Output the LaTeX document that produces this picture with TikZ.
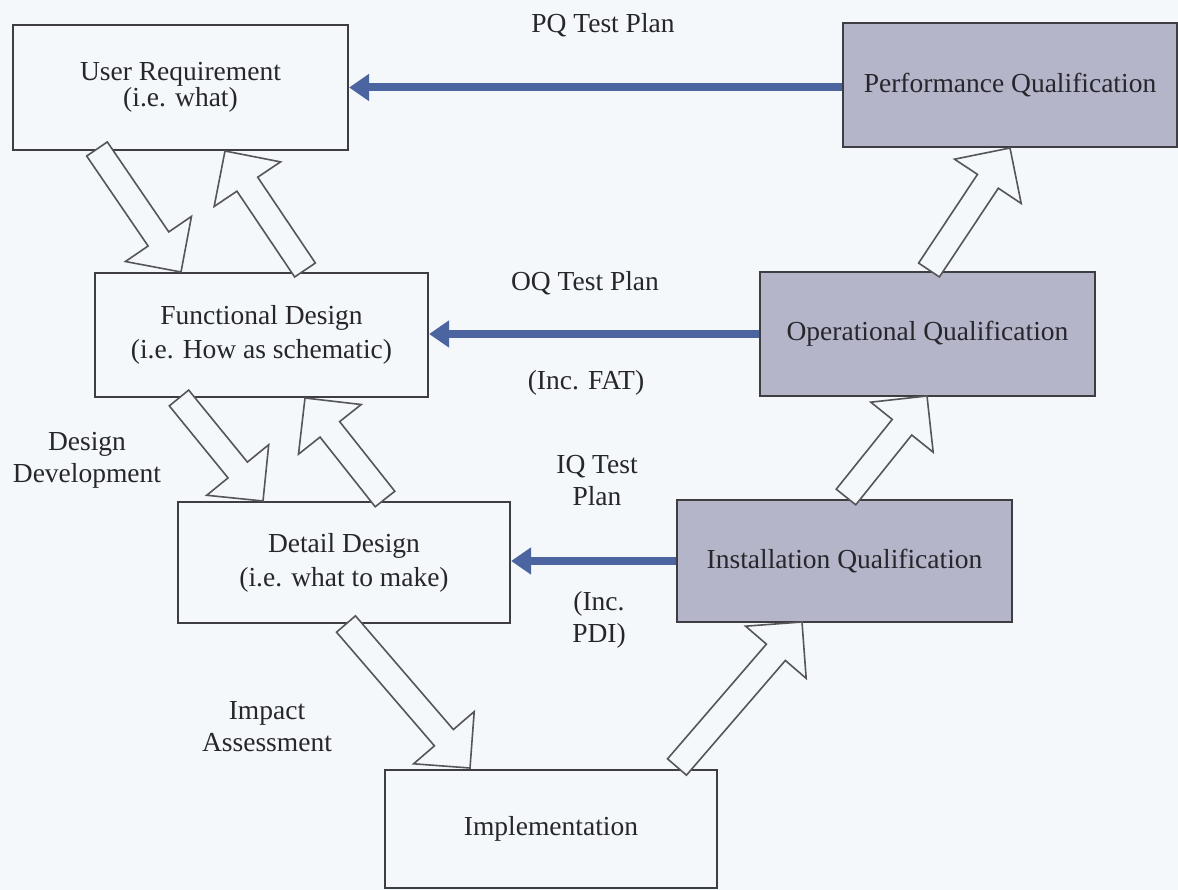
\documentclass[tikz,border=0pt]{standalone}
\usepackage{fontspec}
\setmainfont{Liberation Serif}
\usetikzlibrary{calc,arrows.meta}
\definecolor{bgc}{RGB}{244,248,250}
\definecolor{qfill}{RGB}{180,181,200}
\definecolor{linkblue}{RGB}{76,101,160}
\definecolor{edgegray}{RGB}{62,62,66}
\definecolor{arrowgray}{RGB}{85,85,90}
\definecolor{txt}{RGB}{38,38,44}

% hollow block arrow from tail centre #1 to tip #2
\newcommand\hollowarrow[2]{%
  \draw[blockarrow] let \p1=(#1), \p2=(#2),
      \n1={atan2(\y2-\y1,\x2-\x1)}, \n2={veclen(\x2-\x1,\y2-\y1)} in
    ($(\p1)+({\n1+90}:12.5)$)
    -- ($(\p1)+({\n1}:{\n2-40})+({\n1+90}:12.5)$)
    -- ($(\p1)+({\n1}:{\n2-40})+({\n1+90}:40)$)
    -- (\p2)
    -- ($(\p1)+({\n1}:{\n2-40})+({\n1-90}:40)$)
    -- ($(\p1)+({\n1}:{\n2-40})+({\n1-90}:12.5)$)
    -- ($(\p1)+({\n1-90}:12.5)$) -- cycle;}

\begin{document}
\begin{tikzpicture}[x=1pt,y=1pt,
  stage/.style={draw=edgegray, line width=2.2pt, fill=bgc, align=center,
    text=txt, inner sep=0pt, font=\fontsize{27.5}{34}\selectfont},
  qual/.style={stage, fill=qfill},
  tag/.style={text=txt, align=center, inner sep=0pt,
    font=\fontsize{27.5}{32}\selectfont},
  testlink/.style={draw=linkblue, line width=8pt,
    -{Triangle[length=20pt,width=26pt]}},
  blockarrow/.style={draw=arrowgray, fill=bgc, line width=1.6pt, line join=miter}]

\fill[bgc] (0,0) rectangle (1178,-890);
\useasboundingbox (0,0) rectangle (1178,-890);

% stages of the V model
\node[stage, minimum width=335pt, minimum height=125pt,
      font=\fontsize{27.5}{26}\selectfont] (ur) at (180.5,-87.5)
  {User Requirement\\(i.e. what)};
\node[qual, minimum width=334pt, minimum height=124pt] (pq) at (1010,-85)
  {Performance Qualification};
\node[stage, minimum width=333pt, minimum height=124pt] (fd) at (261.5,-335)
  {Functional Design\\(i.e. How as schematic)};
\node[qual, minimum width=335pt, minimum height=124pt] (oq) at (927.5,-334)
  {Operational Qualification};
\node[stage, minimum width=332pt, minimum height=121pt] (dd) at (344,-562.5)
  {Detail Design\\(i.e. what to make)};
\node[qual, minimum width=335pt, minimum height=122pt] (iq) at (844.5,-561)
  {Installation Qualification};
\node[stage, minimum width=332pt, minimum height=118pt] (impl) at (551,-829)
  {Implementation};

% test plans
\draw[testlink] (ur.east -| pq.west) -- (ur.east);
\draw[testlink] (oq.west) -- (oq.west -| fd.east);
\draw[testlink] (iq.west) -- (iq.west -| dd.east);

\node[tag] (pqt) at (603,-25) {PQ Test Plan};
\node[tag] (oqt) at (585,-283) {OQ Test Plan};
\node[tag] (fat) at (586,-383) {(Inc. FAT)};
\node[tag] (iqt) at (597,-481) {IQ Test\\Plan};
\node[tag] (pdi) at (599,-620) {(Inc.\\PDI)};
\node[tag] (dev) at (87,-460) {Design\\Development};
\node[tag] (imp) at (267,-727) {Impact\\Assessment};

% tails and tips of the block arrows
\coordinate (a1s) at (97,-149);  \coordinate (a1e) at (181,-272);
\coordinate (a2s) at (305,-270); \coordinate (a2e) at (225,-151);
\coordinate (a3s) at (179,-398); \coordinate (a3e) at (263,-501);
\coordinate (a4s) at (385,-499); \coordinate (a4e) at (305,-398);
\coordinate (a5s) at (346,-624); \coordinate (a5e) at (470,-768);
\coordinate (a6s) at (677,-767); \coordinate (a6e) at (802,-622);
\coordinate (a7s) at (846,-497); \coordinate (a7e) at (927,-396);
\coordinate (a8s) at (929,-270); \coordinate (a8e) at (1010,-148);

\hollowarrow{a1s}{a1e}
\hollowarrow{a2s}{a2e}
\hollowarrow{a3s}{a3e}
\hollowarrow{a4s}{a4e}
\hollowarrow{a5s}{a5e}
\hollowarrow{a6s}{a6e}
\hollowarrow{a7s}{a7e}
\hollowarrow{a8s}{a8e}
\end{tikzpicture}
\end{document}
